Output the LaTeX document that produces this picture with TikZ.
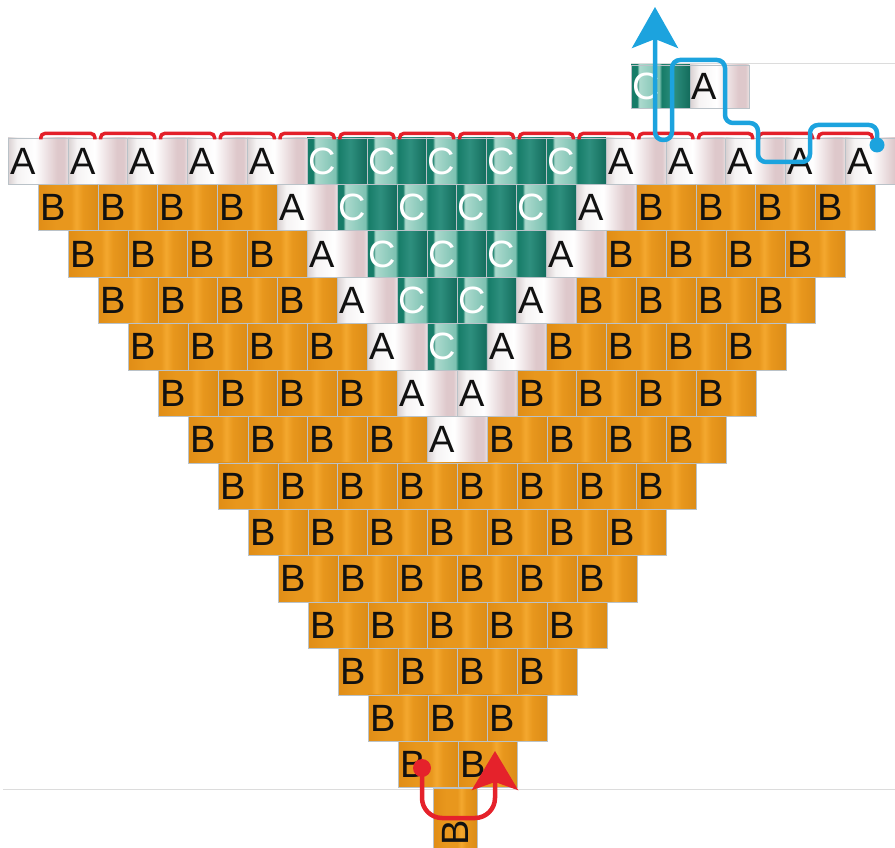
\documentclass[tikz,border=0pt]{standalone}
\usepackage{fontspec}
\newfontfamily\tilefont{Liberation Sans}
\usetikzlibrary{arrows.meta}
\definecolor{aL}{HTML}{D9D0D1}
\definecolor{aR}{HTML}{DEC8CB}
\definecolor{aE}{HTML}{EAE1E2}
\definecolor{bL}{HTML}{E08D16}
\definecolor{bA}{HTML}{E8971D}
\definecolor{bM}{HTML}{F4A82F}
\definecolor{bR}{HTML}{DC8C17}
\definecolor{cD}{HTML}{167C68}
\definecolor{cL}{HTML}{ACDACE}
\definecolor{cM}{HTML}{7CC1B1}
\definecolor{cN}{HTML}{2E8F7E}
\definecolor{cE}{HTML}{136C5C}
\definecolor{tileedge}{HTML}{BAC2C8}
\definecolor{bracketred}{HTML}{E3202A}
\definecolor{arrowred}{HTML}{E5222B}
\definecolor{pathblue}{HTML}{1CA3DE}
\definecolor{faintline}{HTML}{DCDCDC}
\definecolor{ink}{HTML}{111111}
% only the band 25bp..75bp of a shading covers the filled path
\pgfdeclarehorizontalshading{shA}{100bp}{color(0bp)=(aL); color(25bp)=(aL); color(32.5bp)=(white!75!aL); color(47.5bp)=(white); color(66bp)=(aR); color(72bp)=(aR); color(75bp)=(aE); color(100bp)=(aE)}
\pgfdeclarehorizontalshading{shB}{100bp}{color(0bp)=(bL); color(25bp)=(bL); color(40bp)=(bA); color(52.5bp)=(bA); color(57bp)=(bM); color(62.5bp)=(bA); color(75bp)=(bR); color(100bp)=(bR)}
\pgfdeclarehorizontalshading{shC}{100bp}{color(0bp)=(cD); color(30bp)=(cD); color(32bp)=(cL); color(49bp)=(cM); color(51bp)=(cD); color(61bp)=(cN); color(75bp)=(cE); color(100bp)=(cE)}
\begin{document}
\begin{tikzpicture}[x=1pt,y=-1pt,
  tile/.style={tile#1},
  tilebase/.style={rectangle, draw=tileedge, line width=0.6pt, shade,
    minimum width=59.8pt, minimum height=46.4pt, inner sep=0pt,
    font=\tilefont\fontsize{38pt}{38pt}\selectfont},
  tileA/.style={tilebase, shading=shA, text=ink},
  tileB/.style={tilebase, shading=shB, text=ink},
  tileC/.style={tilebase, shading=shC, text=white},
  bracket/.style={draw=bracketred, line width=3.5pt, rounded corners=4pt},
  faint/.style={draw=faintline, line width=1pt},
  bluepath/.style={draw=pathblue, line width=4.5pt, rounded corners=8pt,
    -{Stealth[length=41pt, width=46pt, inset=9pt]}},
  redpath/.style={draw=arrowred, line width=4.5pt, rounded corners=20pt,
    -{Stealth[length=39pt, width=46pt, inset=8pt]}}
]
\useasboundingbox (0,0) rectangle (895,848);
\clip (0,0) rectangle (895,848);

% faint guide lines
\draw[faint] (631,64) -- (895,64);
\draw[faint] (3,789) -- (895,789);

% main triangle of tiles
\foreach \r/\row in {
  0/{A,A,A,A,A,C,C,C,C,C,A,A,A,A,A},
  1/{B,B,B,B,A,C,C,C,C,A,B,B,B,B},
  2/{B,B,B,B,A,C,C,C,A,B,B,B,B},
  3/{B,B,B,B,A,C,C,A,B,B,B,B},
  4/{B,B,B,B,A,C,A,B,B,B,B},
  5/{B,B,B,B,A,A,B,B,B,B},
  6/{B,B,B,B,A,B,B,B,B},
  7/{B,B,B,B,B,B,B,B},
  8/{B,B,B,B,B,B,B},
  9/{B,B,B,B,B,B},
  10/{B,B,B,B,B},
  11/{B,B,B,B},
  12/{B,B,B},
  13/{B,B}}
{
  \foreach \t [count=\i from 0] in \row {
    \node[tile/.expand once=\t] (t\r-\i) at ({37.9+30*\r+59.8*\i},{161.2+46.4*\r})
      {\makebox[30pt]{\t}\kern29.8pt};
  }
}

% extra tiles at the top
\node[tileC, minimum width=59pt, minimum height=43.3pt] (topC) at (660.5,86.5)
  {\makebox[30pt]{C}\kern29pt};
\node[tileA, minimum width=59pt, minimum height=43.3pt] (topA) at (719.5,86.5)
  {\makebox[28pt]{A}\kern31pt};

% rotated tile at the bottom
\node[tileB, rotate=90, minimum height=44pt] (bot) at (455,818)
  {\makebox[30pt]{B}\kern29.8pt};

% red brackets above the top row
\foreach \i in {0,...,13} {
  \draw[bracket] ({67.9+59.8*\i-27},139.5) -- ++(0,-6) -- ++(54,0) -- ++(0,6);
}

% blue path
\coordinate (bstart) at (877,145);
\coordinate (bend) at (655,7);
\draw[bluepath] (bstart) -- (877,125) -- (810,125) -- (810,162) -- (758,162)
  -- (758,123) -- (725,123) -- (725,60) -- (672,60) -- (672,140)
  -- (655,140) -- (bend);
\fill[pathblue] (bstart) circle (7.5pt);

% red arrow
\coordinate (rstart) at (422,768);
\coordinate (rend) at (495,751);
\draw[redpath] (rstart) -- (422,818) -- (495,818) -- (rend);
\fill[arrowred] (rstart) circle (9pt);
\end{tikzpicture}
\end{document}
